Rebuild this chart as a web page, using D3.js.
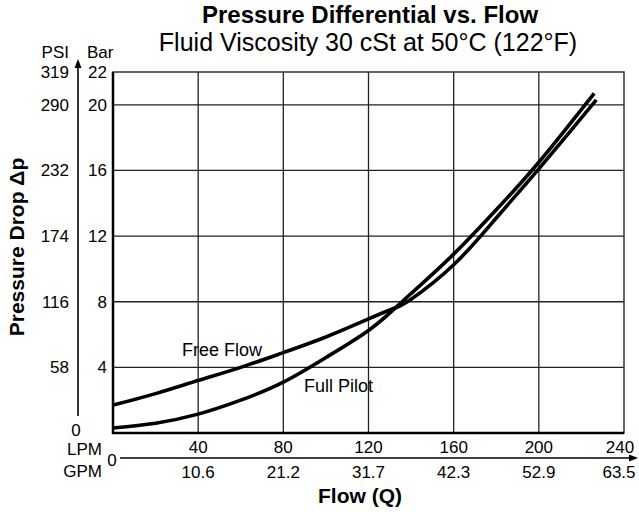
<!DOCTYPE html>
<html><head><meta charset="utf-8">
<script src="https://cdn.jsdelivr.net/npm/d3@7/dist/d3.min.js"></script>
<style>body{margin:0;background:#fff}svg{display:block;font-family:"Liberation Sans",Arial,sans-serif}</style>
</head><body>
<svg id="c" width="639" height="512"></svg>
<script>
const lpmTicks = [40, 80, 120, 160, 200, 240];
const gpmLabels = ["10.6", "21.2", "31.7", "42.3", "52.9", "63.5"];
const barTicks = [4, 8, 12, 16, 20, 22];
const psiLabels = ["58", "116", "174", "232", "290", "319"];
const freeFlow = [[0,1.7],[20,2.4],[40,3.2],[60,4.0],[80,4.9],[100,5.85],[120,6.95],[132,7.6],[140,8.15],[160,10.25],[180,13.1],[200,16.1],[227,20.3]];
const fullPilot = [[0,0.3],[20,0.6],[40,1.15],[60,2.0],[80,3.1],[100,4.6],[120,6.25],[132,7.55],[140,8.5],[160,10.9],[180,13.6],[200,16.5],[226,20.7]];

const svg = d3.select("#c");
const x = d3.scaleLinear().domain([0, 240]).range([113, 624]);
const y = d3.scaleLinear().domain([0, 22]).range([433, 72]);

// grid
const g = svg.append("g");
g.selectAll("line.vx").data(lpmTicks.slice(0, -1)).join("line")
  .attr("x1", d => x(d)).attr("x2", d => x(d)).attr("y1", y(22)).attr("y2", y(0))
  .attr("stroke", "#222").attr("stroke-width", 1.3);
g.selectAll("line.hy").data(barTicks.slice(0, -1)).join("line")
  .attr("x1", x(0)).attr("x2", x(240)).attr("y1", d => y(d)).attr("y2", d => y(d))
  .attr("stroke", "#222").attr("stroke-width", 1.3);
// border
g.append("rect").attr("x", x(0)).attr("y", y(22)).attr("width", x(240) - x(0)).attr("height", y(0) - y(22))
  .attr("fill", "none").attr("stroke", "#333").attr("stroke-width", 1.5);
g.append("line").attr("x1", x(0)).attr("x2", x(0)).attr("y1", y(22)).attr("y2", y(0) + 1).attr("stroke", "#000").attr("stroke-width", 2.5);
g.append("line").attr("x1", x(0) - 1).attr("x2", x(240)).attr("y1", y(0)).attr("y2", y(0)).attr("stroke", "#000").attr("stroke-width", 2.5);

// curves
const line = d3.line().x(d => x(d[0])).y(d => y(d[1])).curve(d3.curveNatural);
[freeFlow, fullPilot].forEach(s => {
  svg.append("path").attr("d", line(s)).attr("fill", "none").attr("stroke", "#000").attr("stroke-width", 3.6).attr("stroke-linecap", "butt");
});

// y-axis tick labels
const fs = 17;
svg.selectAll("text.bar").data(barTicks).join("text")
  .attr("x", 107).attr("y", d => y(d) + 6).attr("text-anchor", "end").attr("font-size", fs).text(d => d);
svg.selectAll("text.psi").data(barTicks).join("text")
  .attr("x", 69).attr("y", d => y(d) + 6).attr("text-anchor", "end").attr("font-size", fs).text((d, i) => psiLabels[i]);
svg.append("text").attr("x", 76).attr("y", 436).attr("text-anchor", "middle").attr("font-size", fs).text("0");
svg.append("text").attr("x", 69).attr("y", 58).attr("text-anchor", "end").attr("font-size", fs).text("PSI");
svg.append("text").attr("x", 87).attr("y", 58).attr("font-size", fs).text("Bar");
// y arrow
svg.append("line").attr("x1", 78).attr("x2", 78).attr("y1", 66).attr("y2", 416).attr("stroke", "#000").attr("stroke-width", 1.6);
svg.append("path").attr("d", "M78,59 L74.5,68 L81.5,68 Z").attr("fill", "#000");

// x-axis labels
svg.selectAll("text.lpm").data(lpmTicks).join("text")
  .attr("x", d => d === 240 ? x(d) - 4 : x(d)).attr("y", 453).attr("text-anchor", "middle").attr("font-size", fs).text(d => d);
svg.selectAll("text.gpm").data(lpmTicks).join("text")
  .attr("x", d => d === 240 ? x(d) - 5 : x(d)).attr("y", 478).attr("text-anchor", "middle").attr("font-size", fs).text((d, i) => gpmLabels[i]);
svg.append("text").attr("x", 102).attr("y", 455).attr("text-anchor", "end").attr("font-size", fs).text("LPM");
svg.append("text").attr("x", 102).attr("y", 477).attr("text-anchor", "end").attr("font-size", fs).text("GPM");
svg.append("text").attr("x", 112).attr("y", 466).attr("text-anchor", "middle").attr("font-size", fs).text("0");
svg.append("line").attr("x1", 120).attr("x2", 630).attr("y1", 458).attr("y2", 458).attr("stroke", "#000").attr("stroke-width", 1.6);
svg.append("path").attr("d", "M638,458 L629,454.5 L629,461.5 Z").attr("fill", "#000");

// axis titles
svg.append("text").attr("x", 360).attr("y", 503).attr("text-anchor", "middle").attr("font-size", 21).attr("font-weight", "bold").text("Flow (Q)");
svg.append("text").attr("transform", "translate(24,247) rotate(-90)").attr("text-anchor", "middle").attr("font-size", 21).attr("font-weight", "bold").text("Pressure Drop \u0394p");

// series labels
svg.append("text").attr("x", 182).attr("y", 356).attr("font-size", 18).text("Free Flow");
svg.append("text").attr("x", 304).attr("y", 391.5).attr("font-size", 18).text("Full Pilot");

// titles
svg.append("text").attr("x", 370).attr("y", 23).attr("text-anchor", "middle").attr("font-size", 24).attr("font-weight", "bold").text("Pressure Differential vs. Flow");
svg.append("text").attr("x", 368).attr("y", 51).attr("text-anchor", "middle").attr("font-size", 25).text("Fluid Viscosity 30 cSt at 50\u00B0C (122\u00B0F)");
</script>
</body></html>
